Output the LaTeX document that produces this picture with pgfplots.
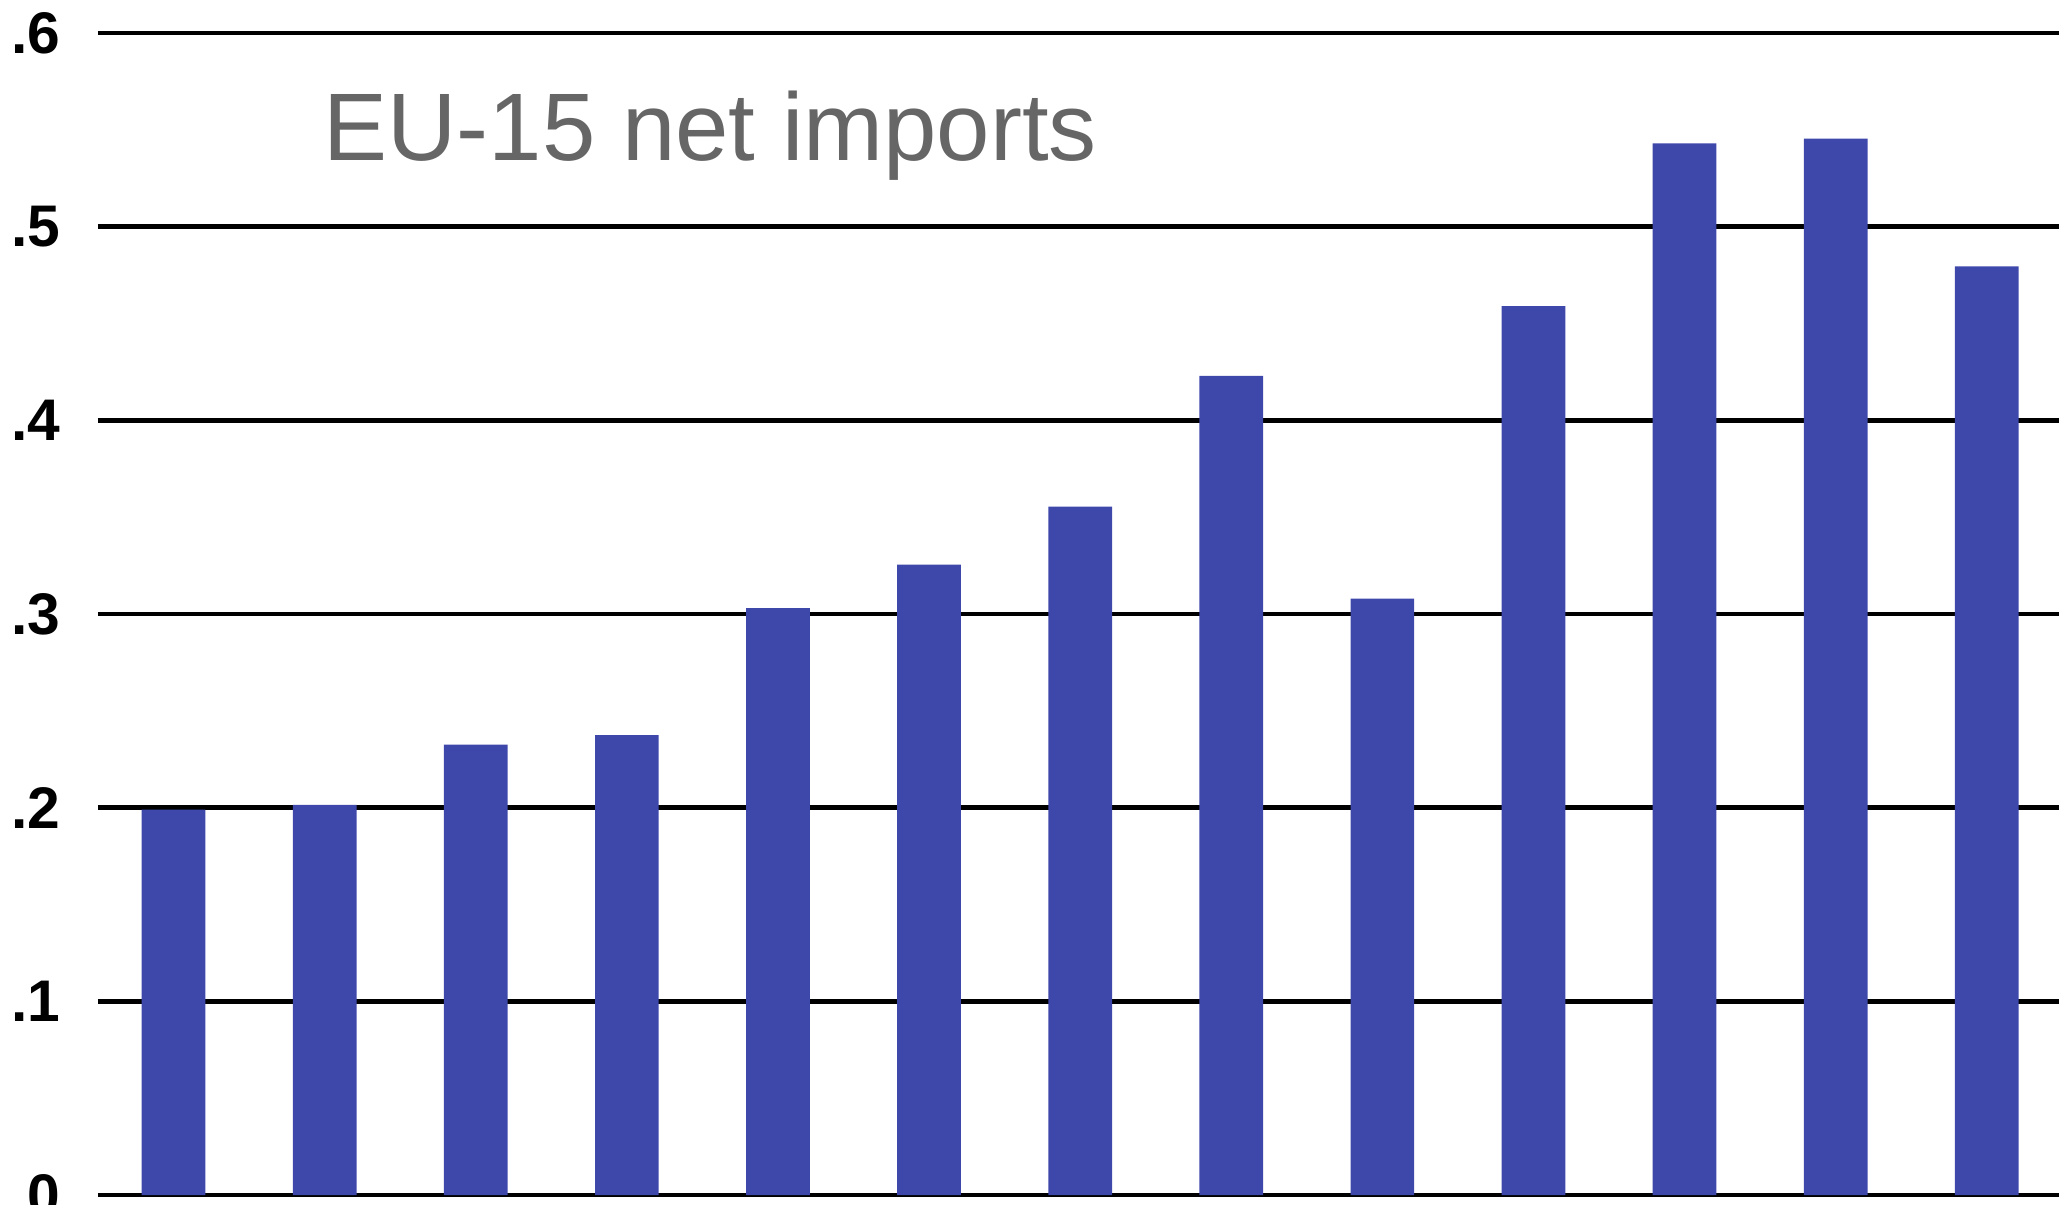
\documentclass[border=0pt]{standalone}
\usepackage{pgfplots}
\pgfplotsset{compat=1.18}
\usepackage{fontspec}
\setmainfont{Liberation Sans}
\definecolor{barblue}{RGB}{62,71,170}
\definecolor{titlegray}{RGB}{102,102,102}
\begin{document}
\begin{tikzpicture}[x=1mm,y=1mm]
\begin{axis}[
  at={(9.8mm,0.9mm)}, anchor=south west,
  scale only axis,
  width=196.43mm, height=116.2mm,
  xmin=-0.5, xmax=12.5,
  ymin=0, ymax=0.6,
  axis line style={draw=none},
  xtick=\empty,
  ytick={0,0.1,0.2,0.3,0.4,0.5,0.6},
  yticklabels={0,.1,.2,.3,.4,.5,.6},
  major tick length=0pt,
  ymajorgrids,
  grid style={black, line width=0.47mm},
  yticklabel style={font=\fontsize{16.7}{18}\selectfont\bfseries, xshift=-2.5mm},
  /pgf/number format/assume math mode=true,
  clip=false,
]
\addplot[ybar, bar width=6.37mm, draw=none, fill=barblue] coordinates {
 (0,0.199) (1,0.2015) (2,0.2325) (3,0.2375) (4,0.303) (5,0.3255)
 (6,0.3555) (7,0.423) (8,0.308) (9,0.459) (10,0.543) (11,0.5455) (12,0.4795)
};
\end{axis}
\node[anchor=base west, inner sep=0pt, text=titlegray, font=\fontsize{27.3}{30}\selectfont] at (32.3mm,104.3mm) {EU-15 net imports};
\pgfresetboundingbox
\path[use as bounding box] (0,0) rectangle (205.9mm,120.4mm);
\end{tikzpicture}
\end{document}
